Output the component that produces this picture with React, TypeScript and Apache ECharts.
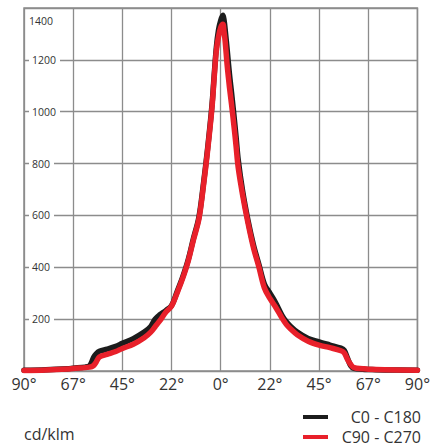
import React, { useEffect, useRef } from "react";
import * as echarts from "echarts";

const angles = [-90, -80, -70, -67.5, -62, -60, -59, -58, -57, -55.5, -52, -48, -45, -40, -35, -32, -30, -28, -25, -22.5, -20, -17.5, -15, -12.5, -10, -8, -6, -4, -3, -2, -1, 0, 1, 1.5, 2, 3, 4, 5, 6, 7, 8, 10, 12.5, 15, 17.5, 20, 22.5, 25, 28, 30, 32, 35, 40, 45, 50, 55, 56.5, 58, 59.5, 61, 65, 67.5, 75, 90];

const c0c180 = [3, 5, 9, 11, 15, 20, 35, 55, 66, 76, 84, 95, 107, 125, 150, 172, 200, 216, 234, 252, 305, 360, 425, 510, 592, 715, 858, 1025, 1140, 1248, 1315, 1352, 1372, 1355, 1320, 1235, 1145, 1070, 990, 905, 815, 695, 580, 485, 410, 335, 300, 265, 215, 190, 172, 150, 125, 112, 100, 88, 80, 50, 20, 10, 7, 6, 4, 3];

const c90c270 = [2, 4, 8, 10, 13, 15, 17, 22, 34, 54, 64, 75, 87, 103, 128, 150, 171, 192, 228, 250, 300, 355, 420, 505, 585, 707, 850, 1015, 1130, 1235, 1290, 1325, 1337, 1310, 1275, 1175, 1095, 1025, 950, 870, 785, 680, 570, 475, 400, 320, 280, 248, 205, 180, 162, 140, 115, 100, 90, 78, 70, 45, 25, 13, 9, 7, 5, 3];

const seriesNames = ["C0 - C180", "C90 - C270"];
const unitLabel = "cd/klm";

export default function App() {
  const ref = useRef<HTMLDivElement>(null);
  useEffect(() => {
    if (!ref.current) return;
    const chart = echarts.init(ref.current, undefined, { renderer: "svg" });
    const font = "Open Sans";
    chart.setOption({
      animation: false,
      title: {
        text: unitLabel,
        left: 24,
        top: 426,
        padding: 0,
        textStyle: { fontFamily: font, fontSize: 16, fontWeight: "normal", color: "#333" },
      },
      legend: {
        orient: "vertical",
        right: 12,
        top: 409,
        padding: 0,
        itemWidth: 25,
        itemHeight: 4,
        itemGap: 4,
        icon: "rect",
        data: seriesNames,
        formatter: (n: string) => `{a|${n}}`,
        textStyle: {
          fontFamily: font,
          fontSize: 16,
          color: "#333",
          rich: { a: { width: 88, align: "right", fontFamily: font, fontSize: 16, lineHeight: 17, color: "#333" } },
        },
      },
      grid: {
        left: 24,
        right: 11,
        top: 8,
        bottom: 77,
        show: true,
        borderColor: "#8a8a8a",
        borderWidth: 1.5,
      },
      xAxis: {
        type: "value",
        min: -90,
        max: 90,
        interval: 22.5,
        axisLine: { show: false },
        axisTick: { show: false },
        splitLine: { show: true, lineStyle: { color: "#8c8c8c", width: 1.3 } },
        axisLabel: {
          margin: 5,
          showMaxLabel: true,
          showMinLabel: true,
          hideOverlap: false,
          fontFamily: font,
          fontSize: 16,
          color: "#333",
          formatter: (v: number) => `${Math.floor(Math.abs(v))}°`,
        },
      },
      yAxis: {
        type: "value",
        min: 0,
        max: 1400,
        interval: 200,
        axisLine: { show: false },
        axisTick: { show: true, inside: true, length: 3, lineStyle: { color: "#8a8a8a" } },
        splitLine: { show: true, lineStyle: { color: "#8c8c8c", width: 1.3 } },
        axisLabel: {
          inside: true,
          margin: 5,
          showMaxLabel: true,
          showMinLabel: false,
          fontFamily: font,
          fontSize: 10.5,
          color: "#333",
          formatter: (v: number) => (v === 0 ? "" : v === 1400 ? `{t|${v}}` : `{n|${v}}`),
          rich: {
            n: { backgroundColor: "#fff", padding: [1, 4, 1, 3], fontFamily: font, fontSize: 10.5, color: "#333" },
            t: { padding: [26, 0, 0, 0], fontFamily: font, fontSize: 10.5, color: "#333" },
          },
        },
        z: 3,
      },
      series: [
        {
          name: seriesNames[0],
          type: "line",
          data: angles.map((a, i) => [a, c0c180[i]]),
          showSymbol: false,
          smooth: 0.35,
          color: "#1c1c1c",
          lineStyle: { width: 5.5, color: "#1c1c1c", join: "round", cap: "round" },
        },
        {
          name: seriesNames[1],
          type: "line",
          data: angles.map((a, i) => [a, c90c270[i]]),
          showSymbol: false,
          smooth: 0.35,
          color: "#e8202a",
          lineStyle: { width: 5.5, color: "#e8202a", join: "round", cap: "round" },
        },
      ],
    });
    return () => chart.dispose();
  }, []);
  return <div ref={ref} style={{ width: 433, height: 448, position: "absolute", left: 0, top: 0 }} />;
}
